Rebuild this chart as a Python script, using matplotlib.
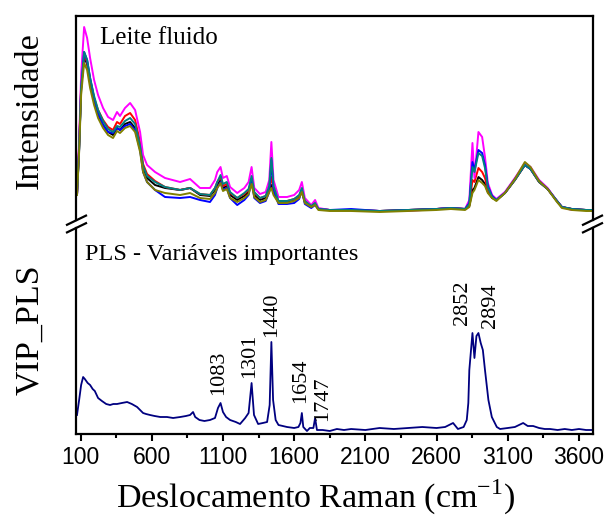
import matplotlib
matplotlib.use('Agg')
import matplotlib.pyplot as plt
from matplotlib.lines import Line2D
from matplotlib.ticker import MultipleLocator

plt.rcParams['font.family'] = ['Liberation Serif', 'DejaVu Serif']
plt.rcParams['mathtext.fontset'] = 'custom'
plt.rcParams['mathtext.rm'] = 'Liberation Serif'

# Espectros Raman das amostras de leite fluido (intensidade relativa)
wn = [75, 90, 104, 125, 146, 167, 195, 223, 258, 293,
      328, 356, 377, 412, 448, 483, 518, 539, 567, 623,
      693, 799, 869, 939, 1009, 1044, 1060, 1083, 1100, 1127,
      1150, 1200, 1250, 1280, 1301, 1320, 1360, 1400, 1425, 1440,
      1455, 1490, 1550, 1600, 1635, 1654, 1675, 1720, 1747, 1770,
      1850, 2000, 2200, 2400, 2600, 2700, 2800, 2830, 2852, 2866,
      2894, 2920, 2940, 2960, 2990, 3020, 3080, 3150, 3220, 3260,
      3320, 3380, 3440, 3480, 3550, 3650, 3696]

leite_magenta = [30, 85, 150, 198, 187, 167, 145, 130, 117, 108,
                 105, 113, 109, 117, 122, 115, 93, 70, 60, 53,
                 47, 43, 46, 37, 37, 45, 53, 58, 47, 49,
                 38, 32, 37, 43, 58, 37, 31, 33, 45, 83,
                 45, 28, 28, 30, 35, 43, 27, 20, 25, 17,
                 15, 15, 14, 14, 16, 17, 16, 25, 82, 47,
                 93, 88, 68, 42, 30, 26, 33, 47, 62, 58,
                 45, 37, 25, 18, 15, 15, 15]

leite_azul = [30, 75, 135, 173, 165, 147, 127, 112, 100, 93,
              92, 97, 95, 99, 101, 95, 75, 53, 43, 35,
              28, 27, 28, 25, 23, 30, 37, 43, 35, 37,
              27, 20, 25, 30, 45, 27, 22, 24, 33, 65,
              35, 21, 21, 22, 26, 35, 21, 17, 20, 16,
              15, 16, 14, 15, 16, 17, 16, 22, 63, 55,
              75, 72, 60, 39, 29, 25, 32, 46, 60, 56,
              44, 36, 25, 18, 16, 15, 15]

leite_ciano = [30, 77, 137, 173, 165, 147, 129, 115, 104, 96,
               93, 99, 98, 104, 107, 101, 79, 59, 49, 43,
               38, 35, 37, 31, 30, 37, 43, 50, 41, 43,
               33, 27, 32, 36, 49, 33, 27, 29, 39, 67,
               39, 24, 24, 26, 30, 37, 24, 19, 22, 16,
               15, 15, 14, 15, 16, 17, 16, 21, 58, 53,
               72, 69, 57, 38, 28, 25, 32, 45, 60, 56,
               43, 36, 25, 18, 16, 15, 15]

leite_vermelho = [30, 80, 140, 170, 163, 145, 127, 115, 105, 98,
                  95, 103, 101, 109, 112, 105, 83, 61, 51, 44,
                  38, 35, 37, 31, 30, 37, 43, 48, 39, 41,
                  32, 27, 31, 35, 45, 32, 27, 29, 37, 48,
                  35, 24, 24, 26, 29, 35, 24, 19, 22, 16,
                  15, 15, 14, 15, 16, 17, 16, 20, 45, 43,
                  57, 53, 47, 35, 28, 25, 32, 45, 60, 56,
                  43, 36, 25, 18, 16, 15, 15]

leite_preto = [30, 77, 137, 168, 161, 143, 125, 111, 100, 93,
               90, 97, 95, 101, 103, 97, 77, 57, 47, 40,
               37, 35, 37, 30, 29, 35, 40, 45, 37, 39,
               30, 25, 29, 33, 43, 30, 25, 27, 35, 40,
               32, 23, 23, 25, 28, 34, 23, 19, 21, 16,
               15, 15, 14, 15, 16, 17, 16, 19, 35, 37,
               48, 45, 41, 33, 27, 25, 32, 45, 60, 56,
               43, 36, 25, 18, 16, 15, 15]

leite_oliva = [30, 73, 130, 162, 155, 137, 120, 107, 97, 90,
               87, 94, 92, 97, 99, 93, 73, 53, 43, 35,
               32, 30, 32, 27, 26, 32, 37, 42, 34, 36,
               27, 23, 27, 31, 41, 28, 23, 25, 33, 37,
               30, 22, 22, 24, 27, 33, 22, 18, 20, 15,
               14, 14, 13, 14, 15, 16, 15, 18, 32, 35,
               45, 42, 39, 32, 27, 24, 32, 46, 63, 58,
               44, 36, 24, 17, 15, 14, 14]

# VIP do modelo PLS
vip_wn = [75, 90, 104, 118, 130, 150, 167, 185, 200, 223,
          250, 280, 307, 330, 356, 390, 427, 460, 497, 539,
          560, 588, 620, 660, 707, 750, 800, 840, 869, 890,
          905, 935, 970, 1009, 1044, 1065, 1083, 1100, 1122, 1150,
          1190, 1220, 1256, 1280, 1301, 1318, 1347, 1380, 1410, 1428,
          1440, 1452, 1470, 1490, 1550, 1600, 1630, 1644, 1654, 1664,
          1690, 1710, 1735, 1747, 1760, 1800, 1850, 1900, 1950, 2000,
          2100, 2200, 2300, 2400, 2500, 2600, 2660, 2716, 2750, 2790,
          2812, 2823, 2830, 2852, 2866, 2880, 2894, 2910, 2925, 2940,
          2964, 2988, 3023, 3046, 3100, 3150, 3208, 3240, 3278, 3320,
          3360, 3397, 3450, 3500, 3550, 3600, 3650, 3696]
vip = [0.95, 1.7, 2.45, 2.85, 2.75, 2.55, 2.45, 2.25, 2.15, 1.8,
       1.65, 1.5, 1.45, 1.5, 1.5, 1.55, 1.6, 1.5, 1.35, 1.05,
       1.0, 0.95, 0.9, 0.85, 0.85, 0.8, 0.85, 0.9, 0.95, 1.1,
       0.85, 0.7, 0.65, 0.7, 0.8, 1.3, 1.55, 1.1, 0.85, 0.7,
       0.6, 0.5, 0.8, 1.05, 2.55, 0.95, 0.5, 0.55, 0.6, 1.45,
       4.6, 1.7, 0.7, 0.45, 0.35, 0.3, 0.35, 0.55, 1.05, 0.35,
       0.15, 0.3, 0.3, 0.8, 0.2, 0.2, 0.15, 0.25, 0.2, 0.25,
       0.2, 0.3, 0.25, 0.3, 0.35, 0.3, 0.35, 0.55, 0.25, 0.35,
       0.7, 1.55, 3.2, 5.05, 3.8, 4.9, 5.05, 4.55, 4.2, 3.2,
       1.7, 0.85, 0.35, 0.25, 0.3, 0.35, 0.55, 0.4, 0.4, 0.3,
       0.25, 0.25, 0.2, 0.25, 0.2, 0.25, 0.2, 0.2]

picos = [1083, 1301, 1440, 1654, 1747, 2852, 2894]

# deslocamento dos rótulos dos picos (pixels)
rot_dx = [-1.5, -1.5, 0.7, -1, 8, -10, 12]
rot_dy = [8, 5, 5, 10, -3, 8, 5]

W, H = 606, 522
fig = plt.figure(figsize=(W / 100, H / 100), dpi=100)


def fx(px):
    return px / W


def fy(py):
    return 1 - py / H


ax_top = fig.add_axes([fx(76), fy(220), fx(592.5) - fx(76), fy(16) - fy(220)])
ax_vip = fig.add_axes([fx(76), fy(434), fx(592.5) - fx(76), fy(228) - fy(434)])

series = [(leite_preto, '#000000'), (leite_vermelho, '#FF0000'),
          (leite_magenta, '#FF00FF'), (leite_azul, '#0000FF'),
          (leite_ciano, '#008080'), (leite_oliva, '#808000')]
for ys, cor in series:
    ax_top.plot(wn, ys, color=cor, lw=1.4)

ax_vip.plot(vip_wn, vip, color='#000080', lw=1.3)

for ax in (ax_top, ax_vip):
    ax.set_xlim(68, 3695)
    for s in ax.spines.values():
        s.set_linewidth(1.6)
ax_top.set_ylim(5, 209)
ax_vip.set_ylim(0, 10.3)

ax_top.spines['bottom'].set_visible(False)
ax_top.set_xticks([])
ax_top.set_yticks([])

ax_vip.spines['top'].set_visible(False)
ax_vip.set_yticks([])
ax_vip.xaxis.set_major_locator(MultipleLocator(500, offset=100))
ax_vip.xaxis.set_minor_locator(MultipleLocator(250, offset=100))
ax_vip.tick_params(axis='x', which='major', direction='out', length=5,
                   width=1.5, pad=4, labelsize=16.5)
ax_vip.tick_params(axis='x', which='minor', direction='out', length=3, width=1.5)
for lab in ax_vip.get_xticklabels():
    lab.set_fontfamily('Liberation Sans')

for p, dx, dy in zip(picos, rot_dx, rot_dy):
    h = vip[vip_wn.index(p)]
    ax_vip.annotate(str(p), xy=(p, h), xytext=(dx * 0.72, dy * 0.72),
                    textcoords='offset points', rotation=90,
                    ha='center', va='bottom', fontsize=16)

ax_top.text(0.0465, 0.892, 'Leite fluido', transform=ax_top.transAxes,
            fontsize=18, va='center', ha='left')
ax_vip.text(0.0174, 0.869, 'PLS - Variáveis importantes',
            transform=ax_vip.transAxes, fontsize=17.5, va='center', ha='left')

fig.text(fx(30), fy(111), 'Intensidade', rotation=90, fontsize=24.5,
         ha='center', va='center')
fig.text(fx(30), fy(330), 'VIP_PLS', rotation=90, fontsize=24.5,
         ha='center', va='center')
fig.text(fx(316), fy(497), r'Deslocamento Raman (cm$^{\mathregular{-1}}$)',
         fontsize=24.5, ha='center', va='center')


# marcas de quebra do eixo
def quebra(x_px, y_px):
    for yc in (y_px - 3.8, y_px + 3.8):
        fig.add_artist(Line2D([fx(x_px - 9.5), fx(x_px + 9.5)],
                              [fy(yc + 4.6), fy(yc - 4.6)],
                              color='black', lw=1.6))


quebra(76.5, 224)
quebra(592.5, 224)

fig.savefig('out.png', dpi=100)
